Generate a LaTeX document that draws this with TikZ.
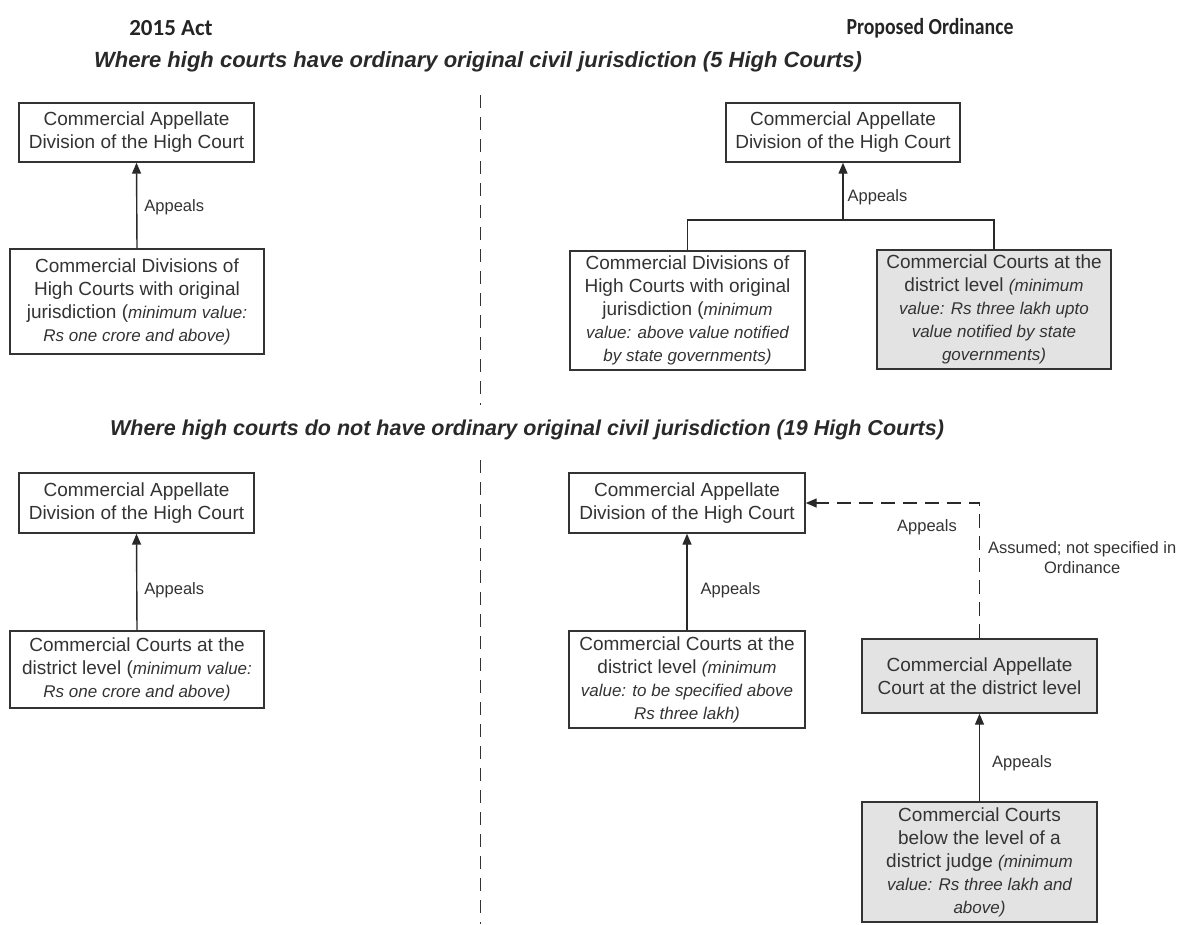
\documentclass[tikz,border=0pt]{standalone}
\usepackage{fontspec}
\setmainfont{Liberation Sans}
\newfontfamily\titlefont{Carlito}
\usetikzlibrary{arrows.meta}
\definecolor{ink}{HTML}{333333}
\definecolor{boxgray}{HTML}{E3E3E3}
\newcommand{\mi}[1]{{\itshape\fontsize{17}{23}\selectfont #1}}
\tikzset{
  court/.style={draw=ink, line width=1.4pt, rectangle, align=center, inner sep=0pt,
    text=ink, font=\fontsize{19}{23}\selectfont},
  shaded/.style={court, fill=boxgray},
  link/.style={draw=ink!80!black, line width=1.4pt},
  appeal/.style={link, -{Triangle[length=11pt,width=9pt]}},
  lbl/.style={text=ink, font=\fontsize{16.5}{20}\selectfont, inner sep=0pt},
  divider/.style={draw=ink, line width=1pt, dash pattern=on 13pt off 9pt},
  heading/.style={text=ink!70!black, font=\titlefont\bfseries\fontsize{23}{27}\selectfont},
  subhead/.style={text=ink!80!black, font=\bfseries\itshape\fontsize{22}{26}\selectfont}
}
\begin{document}
\begin{tikzpicture}[x=1pt,y=-1pt]
\useasboundingbox (0,0) rectangle (1194,924);

% headings
\node[heading] (h1) at (171,28) {2015 Act};
\node[heading] (h2) at (930,28) {\scalebox{0.86}[1]{Proposed Ordinance}};
\node[subhead] (s1) at (478,62) {Where high courts have ordinary original civil jurisdiction (5 High Courts)};
\node[subhead] (s2) at (527,430) {\fontsize{21.5}{26}\selectfont Where high courts do not have ordinary original civil jurisdiction (19 High Courts)};

% dividers
\coordinate (d1) at (480,95);
\coordinate (d2) at (480,405);
\coordinate (d3) at (480,460);
\coordinate (d4) at (480,924);
\draw[divider] (d1) -- (d2);
\draw[divider] (d3) -- (d4);

% top left
\node[court, minimum width=235pt, minimum height=59pt] (A1) at (136.5,132.5)
  {Commercial Appellate\\Division of the High Court};
\node[court, minimum width=254pt, minimum height=105pt] (B1) at (137,301.5)
  {Commercial Divisions of\\High Courts with original\\jurisdiction (\mi{minimum value:}\\\mi{Rs one crore and above)}};
\draw[appeal] (B1.north) -- node[lbl, pos=0.48, anchor=west, xshift=7pt] (l1) {Appeals} (A1.south);

% top right
\node[court, minimum width=234pt, minimum height=59pt] (A2) at (843,132.5)
  {Commercial Appellate\\Division of the High Court};
\node[court, minimum width=235pt, minimum height=119pt] (B2) at (687.5,310.5)
  {Commercial Divisions of\\High Courts with original\\jurisdiction (\mi{minimum}\\\mi{value: above value notified}\\\mi{by state governments)}};
\node[shaded, minimum width=234pt, minimum height=119pt] (C2) at (994,309.5)
  {Commercial Courts at the\\district level \mi{(minimum}\\\mi{value: Rs three lakh upto}\\\mi{value notified by state}\\\mi{governments)}};
\coordinate (J) at (843,220);
\draw[link] (B2.north) |- (J) -| (C2.north);
\draw[appeal] (J) -- node[lbl, pos=0.4, anchor=west, xshift=4pt] (l2) {Appeals} (A2.south);

% bottom left
\node[court, minimum width=235pt, minimum height=60pt] (A3) at (136.5,503)
  {Commercial Appellate\\Division of the High Court};
\node[court, minimum width=254pt, minimum height=77pt] (B3) at (137,669.5)
  {Commercial Courts at the\\district level (\mi{minimum value:}\\\mi{Rs one crore and above)}};
\draw[appeal] (B3.north) -- node[lbl, pos=0.42, anchor=west, xshift=7pt] (l3) {Appeals} (A3.south);

% bottom right
\node[court, minimum width=236pt, minimum height=60pt] (A4) at (687,503)
  {Commercial Appellate\\Division of the High Court};
\node[court, minimum width=236pt, minimum height=97pt] (B4) at (687,679.5)
  {Commercial Courts at the\\district level \mi{(minimum}\\\mi{value: to be specified above}\\\mi{Rs three lakh)}};
\draw[appeal] (B4.north) -- node[lbl, pos=0.42, anchor=west, xshift=13pt] (l4) {Appeals} (A4.south);

\node[shaded, minimum width=235pt, minimum height=74pt] (C4) at (979.5,676)
  {Commercial Appellate\\Court at the district level};
\node[shaded, minimum width=235pt, minimum height=120pt] (D4) at (979.5,862)
  {Commercial Courts\\below the level of a\\district judge \mi{(minimum}\\\mi{value: Rs three lakh and}\\\mi{above)}};
\draw[appeal] (D4.north) -- node[lbl, pos=0.43, anchor=west, xshift=12pt] (l5) {Appeals} (C4.south);

\draw[link, dash pattern=on 14pt off 8pt, -{Triangle[length=11pt,width=9pt]}] (C4.north) |-
  node[lbl, pos=0.41, anchor=east, xshift=-22pt] (l6) {Appeals}
  node[lbl, pos=0.3, anchor=west, xshift=8pt, align=center] (l7) {Assumed; not specified in\\Ordinance}
  (A4.east);
\end{tikzpicture}
\end{document}
